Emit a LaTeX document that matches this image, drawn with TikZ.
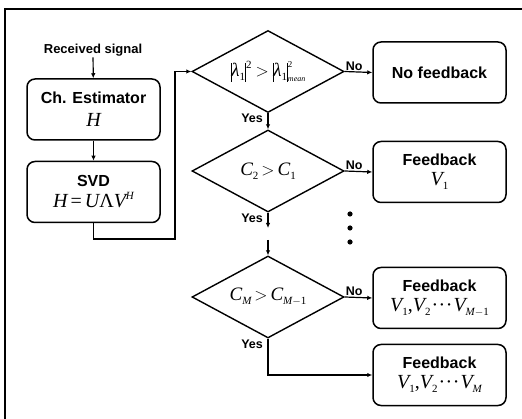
\documentclass[tikz,border=0pt]{standalone}
\usepackage{fontspec}
\setmainfont{Liberation Sans}
\newfontfamily\mathserif{Liberation Serif}
\usetikzlibrary{shapes.geometric,arrows.meta}

% italic serif symbols, upright subscripts/superscripts
\newcommand\vv[1]{{\mathserif\mdseries\itshape #1}}
\newcommand\lo[1]{\raisebox{-4pt}{\mathserif\mdseries\upshape\fontsize{11}{11}\selectfont #1}}
\newcommand\loi[1]{\raisebox{-4pt}{\mathserif\mdseries\itshape\fontsize{11}{11}\selectfont #1}}
\newcommand\hi[1]{\raisebox{8pt}{\mathserif\mdseries\upshape\fontsize{11}{11}\selectfont #1}}
\newcommand\absbar{\rule[-5pt]{0.8pt}{19pt}}
\newcommand\supsub[2]{\makebox[0pt][l]{\raisebox{9pt}{\mathserif\upshape\fontsize{9}{9}\selectfont #1}}\raisebox{-5pt}{\mathserif\itshape\fontsize{8}{8}\selectfont #2}}
\newcommand\cdotsx{\kern1pt{\mathserif\mdseries\upshape\textperiodcentered\kern0.5pt\textperiodcentered\kern0.5pt\textperiodcentered}\kern1pt}
% serif formula line inside a box
\newcommand\formula[1]{{\mathserif\mdseries\itshape\fontsize{20}{22}\selectfont #1}}

\begin{document}
\begin{tikzpicture}[x=1pt,y=-1pt,
  box/.style={draw, line width=1.5pt, rounded corners=8pt, minimum width=133pt,
    minimum height=61pt, align=center, inner sep=0pt,
    font=\bfseries\fontsize{16}{17}\selectfont},
  test/.style={draw, diamond, line width=1.4pt, shape aspect=1.85,
    minimum width=152pt, minimum height=82pt, inner sep=0pt,
    font=\mathserif\fontsize{19}{20}\selectfont},
  flow/.style={line width=1.2pt, -{Latex[length=5pt,width=4.5pt]}},
  tag/.style={font=\bfseries\fontsize{12.5}{13}\selectfont, inner sep=0pt}]

\useasboundingbox (0,0) rectangle (522,419);
\fill[white] (0,0) rectangle (522,419);
% outer frame
\draw[line width=2pt] (5,419) -- (5,9) -- (522,9);

% left column
\node[font=\bfseries\fontsize{13}{14}\selectfont, inner sep=1pt] (recv) at (93,50) {Received signal};
\node[box] (est) at (93.5,109.5) {Ch. Estimator\\[6pt]\formula{H}};
\node[box] (svd) at (93.5,192) {SVD\\[4pt]\formula{H\kern3pt\upshape=\kern3pt\itshape U\upshape Λ\itshape V\hi{\itshape H}}};

% decision chain
\node[test] (d1) at (268,71.5) {\absbar\vv{λ}\lo{1}\absbar\hi{2}\kern4pt$>$\kern4pt\absbar\vv{λ}\lo{1}\absbar\supsub{2}{mean}};
\node[test] (d2) at (268,171) {\vv{C}\lo{2}\kern3pt$>$\kern3pt\vv{C}\lo{1}};
\node[test] (d3) at (268,297) {\vv{C}\loi{M}\kern3pt$>$\kern3pt\vv{C}\loi{M\upshape$-$1}};

% outcome boxes
\node[box] (nofb) at (439.5,72.5) {No feedback};
\node[box] (fb1)  at (439.5,172) {Feedback\\[3pt]\formula{V\lo{1}}};
\node[box] (fbm1) at (439.5,298) {Feedback\\[3pt]\formula{V\lo{1}\upshape,\itshape V\lo{2}\cdotsx V\loi{M\upshape$-$1}}};
\node[box] (fbm)  at (439.5,375) {Feedback\\[3pt]\formula{V\lo{1}\upshape,\itshape V\lo{2}\cdotsx V\loi{M}}};

% continuation dots
\foreach \yy/\nm in {214/p1,228/p2,242/p3}
  \fill (350,\yy) circle (2.6pt) coordinate (\nm);

% connectors
\coordinate (gapA) at (268,228);
\coordinate (gapB) at (268,240);
\coordinate (bendA) at (93.5,239);
\coordinate (bendB) at (175,239);

\draw[flow] (recv) -- (est);
\draw[flow] (est) -- (svd);
\draw[flow] (svd.south) -- (bendA) -- (bendB) |- (d1.west);

\draw[flow] (d1.east) -- (nofb.west);
\draw[flow] (d1.south) -- (d2.north);
\draw[flow] (d2.east) -- (fb1.west);
\draw[flow] (d2.south) -- (gapA);
\draw[flow] (gapB) -- (d3.north);
\draw[flow] (d3.east) -- (fbm1.west);
\draw[flow] (d3.south) |- (fbm.west);

% branch labels
\node[tag, anchor=south west] (no1) at ([xshift=1pt,yshift=1pt]d1.east) {No};
\node[tag, anchor=south west] (no2) at ([xshift=1pt,yshift=1pt]d2.east) {No};
\node[tag, anchor=south west] (no3) at ([xshift=1pt,yshift=1pt]d3.east) {No};
\node[tag, anchor=north east] (yes1) at ([xshift=-5pt,yshift=-1pt]d1.south) {Yes};
\node[tag, anchor=north east] (yes2) at ([xshift=-5pt,yshift=-1pt]d2.south) {Yes};
\node[tag, anchor=north east] (yes3) at ([xshift=-5pt,yshift=-1pt]d3.south) {Yes};
\end{tikzpicture}
\end{document}
